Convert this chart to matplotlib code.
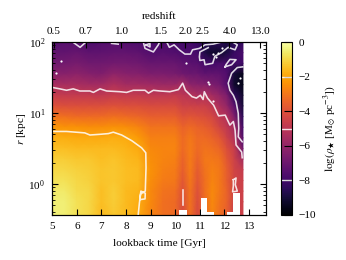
import matplotlib
matplotlib.use('Agg')
import matplotlib.pyplot as plt
import numpy as np

plt.rcParams['font.family'] = ['Liberation Serif', 'DejaVu Serif']
plt.rcParams['mathtext.fontset'] = 'stix'
plt.rcParams['font.size'] = 8.1

# density map
time_gyr = [5.0, 5.5, 6.0, 6.5, 7.0, 7.5, 8.0, 8.5, 9.0, 9.5, 10.0, 10.3, 10.6, 10.9, 11.2, 11.5, 11.8, 12.1, 12.4, 12.75]
log_r = [2.0, 1.85, 1.7, 1.55, 1.4, 1.25, 1.1, 0.95, 0.8, 0.65, 0.5, 0.35, 0.2, 0.05, -0.1, -0.25, -0.44]
log_rho = [
    [-7.6, -7.5, -7.6, -7.8, -7.6, -7.5, -7.6, -7.7, -7.9, -7.7, -7.9, -8.0, -7.9, -8.2, -8.6, -8.5, -8.4, -8.8, -8.6, -8.3],
    [-7.2, -7.2, -7.1, -7.3, -7.3, -7.2, -7.2, -7.3, -7.6, -7.5, -7.6, -7.7, -7.7, -7.9, -8.8, -9.2, -9.2, -8.9, -8.2, -7.8],
    [-6.9, -6.8, -6.7, -6.9, -6.9, -6.8, -6.8, -6.9, -7.1, -7.1, -7.1, -7.3, -7.4, -7.5, -7.9, -8.0, -7.8, -7.9, -8.0, -8.0],
    [-6.3, -6.3, -6.2, -6.4, -6.5, -6.1, -6.3, -6.4, -6.6, -6.6, -6.7, -6.9, -7.0, -7.0, -7.3, -7.2, -7.3, -7.6, -9.0, -9.5],
    [-5.5, -5.5, -5.5, -5.6, -5.6, -5.3, -5.6, -5.6, -5.7, -5.8, -5.8, -5.5, -6.2, -6.3, -6.4, -6.6, -6.8, -7.6, -9.2, -9.6],
    [-4.7, -4.8, -4.8, -4.8, -4.9, -4.7, -4.8, -4.8, -4.9, -4.9, -4.8, -5.0, -5.1, -5.4, -5.2, -5.6, -6.0, -6.6, -8.4, -9.2],
    [-4.0, -4.1, -4.1, -4.1, -4.1, -4.0, -4.1, -4.1, -4.2, -4.2, -4.2, -4.5, -4.5, -4.6, -4.6, -4.9, -5.4, -6.0, -7.4, -9.0],
    [-3.1, -3.2, -3.3, -3.3, -3.3, -3.2, -3.3, -3.4, -3.6, -3.6, -3.6, -4.0, -3.9, -4.0, -4.1, -4.3, -4.9, -5.2, -6.5, -8.5],
    [-2.3, -2.4, -2.4, -2.5, -2.5, -2.4, -2.5, -2.7, -3.1, -3.1, -3.1, -3.5, -3.3, -3.5, -3.6, -3.9, -4.4, -4.9, -5.6, -8.0],
    [-1.8, -1.8, -1.9, -1.9, -1.9, -1.8, -1.9, -2.2, -2.8, -2.8, -2.8, -3.3, -3.0, -3.3, -3.3, -3.5, -3.8, -4.5, -5.2, -7.6],
    [-1.5, -1.5, -1.6, -1.6, -1.6, -1.6, -1.7, -1.9, -2.6, -2.7, -2.7, -3.3, -2.9, -3.3, -3.1, -3.2, -3.4, -4.1, -4.7, -7.0],
    [-1.2, -1.2, -1.3, -1.3, -1.5, -1.4, -1.6, -1.7, -2.5, -2.7, -2.8, -3.5, -2.9, -3.5, -3.0, -3.0, -3.1, -3.8, -4.5, -5.6],
    [-1.0, -1.0, -1.1, -1.2, -1.4, -1.3, -1.5, -1.6, -2.4, -2.8, -2.9, -3.6, -2.9, -3.7, -3.1, -2.8, -3.0, -3.6, -4.4, -4.8],
    [-0.8, -0.8, -1.0, -1.1, -1.4, -1.3, -1.5, -1.6, -2.5, -2.9, -3.0, -3.8, -3.0, -3.8, -3.2, -2.7, -3.0, -3.6, -4.4, -4.6],
    [-0.6, -0.6, -0.9, -1.0, -1.5, -1.2, -1.6, -1.7, -2.6, -3.1, -3.2, -4.0, -3.1, -4.0, -3.2, -2.6, -3.0, -3.5, -4.5, -4.5],
    [-0.5, -0.5, -0.8, -1.0, -1.5, -1.2, -1.6, -1.8, -2.6, -3.2, -3.3, -4.1, -3.1, -4.1, -3.3, -2.6, -3.1, -3.5, -4.6, -4.5],
    [-0.45, -0.5, -0.8, -1.0, -1.6, -1.3, -1.6, -1.9, -2.7, -3.2, -3.3, -4.2, -3.2, -4.2, -3.3, -2.7, -3.2, -3.6, -4.7, -4.5],
]

# iso-density lines: (lookback time, log r) pairs
line_m2_t = [5.04, 5.58, 6.32, 6.53, 6.94, 7.28, 7.48, 7.82, 8.23, 8.63, 8.80, 8.81, 8.78, 8.59, 8.56, 8.77, 8.78, 8.60, 8.54, 8.49]
line_m2_r = [0.74, 0.74, 0.72, 0.69, 0.70, 0.71, 0.73, 0.69, 0.61, 0.51, 0.44, 0.23, -0.10, -0.14, -0.22, -0.21, -0.13, -0.10, -0.27, -0.44]
line_m5_t = [5.0, 5.31, 5.58, 5.85, 6.12, 6.53, 6.67, 6.94, 7.21, 7.75, 8.02, 8.29, 8.77, 8.91, 9.11, 9.38, 9.78, 10.13, 10.30, 10.41,
             10.68, 10.86, 11.02, 11.13, 11.18, 11.31, 11.56, 11.76, 12.03, 12.22, 12.36, 12.43, 12.47, 12.70, 12.72]
line_m5_r = [1.36, 1.34, 1.32, 1.34, 1.31, 1.31, 1.29, 1.34, 1.31, 1.30, 1.29, 1.32, 1.32, 1.28, 1.32, 1.31, 1.30, 1.33, 1.42, 1.32,
             1.23, 1.21, 1.25, 1.19, 1.30, 1.21, 1.11, 0.96, 0.97, 0.83, 0.88, 0.76, 0.55, 0.45, 0.37]
line_m5_islands = [
    ([10.30, 10.30], [-0.085, -0.29]),
    ([12.36, 12.47, 12.44, 12.52, 12.33, 12.36, 12.36], [0.06, 0.085, -0.01, -0.10, -0.11, -0.03, 0.06]),
]
lines_m8 = [
    ([9.65, 9.76, 9.95, 10.16, 10.39, 10.62, 10.70, 10.98, 11.21, 11.54, 11.88], [2.0, 1.925, 1.96, 1.89, 1.83, 1.83, 1.89, 1.91, 1.96, 1.97, 2.0]),
    ([11.34, 11.0, 10.98, 11.00, 11.17, 11.21, 11.52, 11.61, 11.88, 12.15, 12.43, 12.52, 12.33], [1.92, 1.86, 1.79, 1.74, 1.75, 1.68, 1.70, 1.80, 1.85, 1.925, 1.89, 1.96, 2.0]),
    ([12.02, 12.29, 12.47, 12.22, 12.06, 12.02], [1.65, 1.68, 1.75, 1.755, 1.68, 1.65]),
    ([12.74, 12.52, 12.29, 12.15, 12.22, 12.36, 12.47, 12.56, 12.58, 12.56, 12.72], [1.65, 1.64, 1.56, 1.42, 1.32, 1.25, 1.16, 0.995, 0.78, 0.665, 0.595]),
    ([5.83, 6.13, 6.37], [2.0, 1.925, 2.0]),
    ([7.41, 7.68], [1.98, 1.97]),
    ([8.70, 8.77, 9.11, 9.31, 9.36], [2.0, 1.91, 1.86, 1.96, 2.0]),
    ([8.81, 8.97, 8.97, 8.81], [1.96, 1.98, 1.93, 1.96]),
]
speck_t = [5.34, 5.16, 10.43, 11.34, 11.38, 11.54, 11.55, 11.75, 11.88, 11.65, 12.55, 12.62]
speck_r = [1.73, 1.57, 1.70, 1.44, 1.41, 1.17, 1.83, 1.85, 1.91, 1.79, 1.42, 1.50]

# empty cells at small radius
empty_start = [10.16, 11.04, 11.30, 12.11, 12.33]
empty_end = [10.49, 11.30, 11.59, 12.33, 12.63]
empty_top = [0.427, 0.635, 0.404, 0.404, 0.746]

redshift_pos = [5.05, 6.37, 7.8, 9.4, 10.4, 11.1, 12.2, 13.43]
redshift_labels = ['0.5', '0.7', '1.0', '1.5', '2.0', '2.5', '4.0', '13.0']
levels = [-8, -5, -2]

r_min = 0.366
r = 10.0 ** np.array(log_r)
r[-1] = r_min

fig = plt.figure(figsize=(3.46, 2.6), dpi=100)
ax = fig.add_axes([52.3 / 346, 1 - 215 / 260, 214 / 346, 173 / 260])
mesh = ax.pcolormesh(time_gyr, r, np.array(log_rho), cmap='inferno', vmin=-10, vmax=0,
                     shading='gouraud', rasterized=True)
ax.set_yscale('log')

ax.bar(empty_start, np.array(empty_top) - r_min, width=np.array(empty_end) - np.array(empty_start),
       bottom=r_min, align='edge', color='white', zorder=2)

white = dict(color='white', lw=1.15, alpha=0.85, zorder=3)
ax.plot(line_m2_t, 10.0 ** np.array(line_m2_r), **white)
ax.plot(line_m5_t, 10.0 ** np.array(line_m5_r), **white)
for t, lr in line_m5_islands:
    ax.plot(t, 10.0 ** np.array(lr), **white)
for t, lr in lines_m8:
    ax.plot(t, 10.0 ** np.array(lr), **white)
ax.scatter(speck_t, 10.0 ** np.array(speck_r), s=2.5, color='white', lw=0, zorder=3)

ax.set_xlim(5, 13.7)
ax.set_ylim(r_min, 100)
ax.set_xticks(range(5, 14))
ax.set_xlabel('lookback time [Gyr]', labelpad=5.6)
ax.set_ylabel(r'$r$ [kpc]', labelpad=0)
ax.tick_params(which='major', direction='in', length=4, width=0.8, right=True, pad=5)
ax.tick_params(which='minor', direction='in', length=2, width=0.6, right=True)

top = ax.twiny()
top.set_xlim(ax.get_xlim())
top.set_xticks(redshift_pos)
top.set_xticklabels(redshift_labels)
top.set_xlabel('redshift', labelpad=6)
top.tick_params(direction='in', length=4, width=0.8, pad=4)

cax = fig.add_axes([281 / 346, 1 - 215 / 260, 11 / 346, 173 / 260])
cbar = fig.colorbar(mesh, cax=cax)
cbar.set_ticks([0, -2, -4, -6, -8, -10])
cbar.ax.set_yticklabels(['0', '\u22122', '\u22124', '\u22126', '\u22128', '\u221210'])
cbar.ax.tick_params(direction='in', length=5.5, width=0.8, pad=4.5)
cbar.ax.hlines(levels, 0, 1, transform=cbar.ax.get_yaxis_transform(), color='white', lw=1.0, alpha=0.85)
cbar.set_label(r'$\log(\rho_{\bigstar}$ [M$_{\odot}$ pc$^{-3}$])', labelpad=4)

fig.savefig('out.png', dpi=100)
